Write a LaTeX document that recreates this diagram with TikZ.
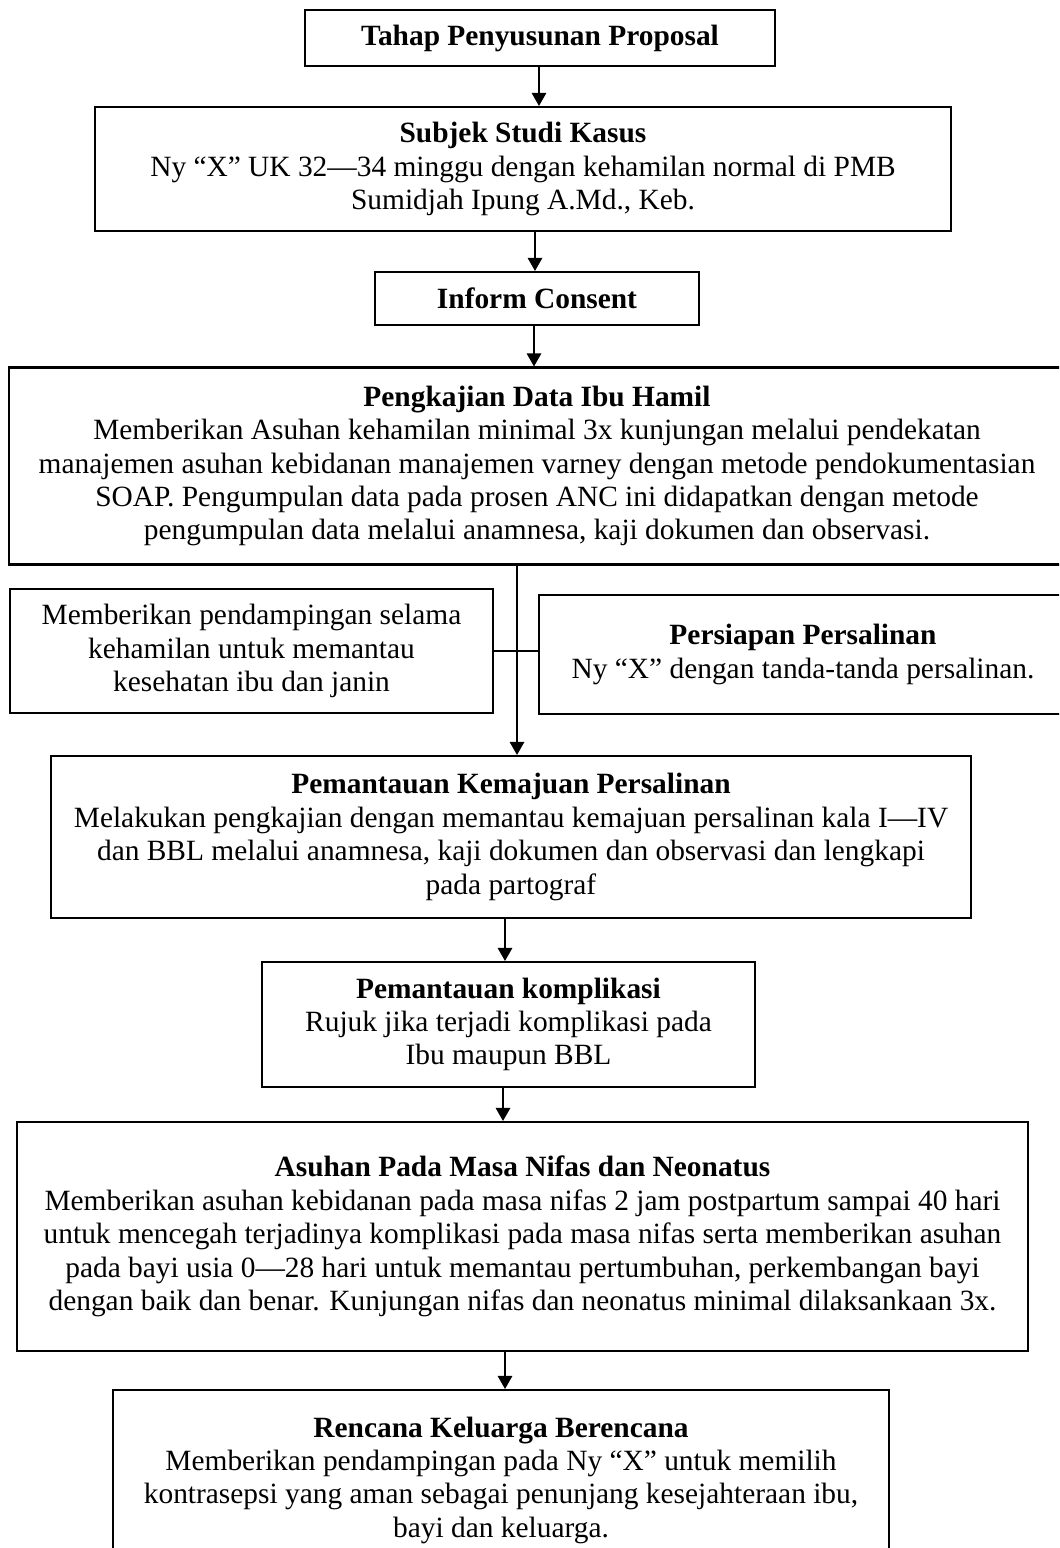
\documentclass[tikz,border=0pt]{standalone}
\usepackage{fontspec}
\setmainfont{Liberation Serif}
\usetikzlibrary{arrows.meta}
\begin{document}
\begin{tikzpicture}[x=0.4286pt,y=-0.4286pt,
  bx/.style={draw,line width=0.9pt,align=center,inner sep=0pt,font=\fontsize{12.6}{14.3}\selectfont},
  sz/.style 2 args={minimum width={#1*0.4286pt},minimum height={#2*0.4286pt}},
  arr/.style={line width=0.7pt,-{Triangle[length=5.6pt,width=6.2pt]}},
  link/.style={line width=0.45pt}]
\useasboundingbox (0,0) rectangle (1059,1548);
\clip (0,0) rectangle (1059,1548);
\node[bx,sz={470}{56}] (b1) at (540,38) {\textbf{Tahap Penyusunan Proposal}};
\node[bx,sz={856}{124}] (b2) at (523,169) {\textbf{Subjek Studi Kasus}\\Ny “X” UK 32—34 minggu dengan kehamilan normal di PMB\\Sumidjah Ipung A.Md., Keb.};
\node[bx,sz={324}{53}] (b3) at (537,298.5) {\textbf{Inform Consent}};
\node[bx,sz={1056}{197}] (b4) at (537,466) {\textbf{Pengkajian Data Ibu Hamil}\\Memberikan Asuhan kehamilan minimal 3x kunjungan melalui pendekatan\\manajemen asuhan kebidanan manajemen varney dengan metode pendokumentasian\\SOAP. Pengumpulan data pada prosen ANC ini didapatkan dengan metode\\pengumpulan data melalui anamnesa, kaji dokumen dan observasi.};
\node[bx,sz={483}{124}] (bl) at (251.5,651) {Memberikan pendampingan selama\\kehamilan untuk memantau\\kesehatan ibu dan janin};
\node[bx,sz={528}{119}] (br) at (803,654.5) {\textbf{Persiapan Persalinan}\\Ny “X” dengan tanda-tanda persalinan.};
\node[bx,sz={920}{162}] (b5) at (511,837) {\textbf{Pemantauan Kemajuan Persalinan}\\Melakukan pengkajian dengan memantau kemajuan persalinan kala I—IV\\dan BBL melalui anamnesa, kaji dokumen dan observasi dan lengkapi\\pada partograf};
\node[bx,sz={493}{125}] (b6) at (508.5,1024.5) {\textbf{Pemantauan komplikasi}\\Rujuk jika terjadi komplikasi pada\\Ibu maupun BBL};
\node[bx,sz={1011}{229}] (b7) at (522.5,1236.5) {\textbf{Asuhan Pada Masa Nifas dan Neonatus}\\Memberikan asuhan kebidanan pada masa nifas 2 jam postpartum sampai 40 hari\\untuk mencegah terjadinya komplikasi pada masa nifas serta memberikan asuhan\\pada bayi usia 0—28 hari untuk memantau pertumbuhan, perkembangan bayi\\dengan baik dan benar. Kunjungan nifas dan neonatus minimal dilaksankaan 3x.};
\node[bx,sz={776}{180}] (b8) at (501,1480) {\textbf{Rencana Keluarga Berencana}\\Memberikan pendampingan pada Ny “X” untuk memilih\\kontrasepsi yang aman sebagai penunjang kesejahteraan ibu,\\bayi dan keluarga.};
\draw[arr] (539,0 |- b1.south) -- (539,0 |- b2.north);
\draw[arr] (535,0 |- b2.south) -- (535,0 |- b3.north);
\draw[arr] (534,0 |- b3.south) -- (534,0 |- b4.north);
\draw[link] (bl.east) -- (bl.east -| br.west);
\draw[arr] (517,0 |- b4.south) -- (517,0 |- b5.north);
\draw[arr] (505,0 |- b5.south) -- (505,0 |- b6.north);
\draw[arr] (503,0 |- b6.south) -- (503,0 |- b7.north);
\draw[arr] (505,0 |- b7.south) -- (505,0 |- b8.north);
\end{tikzpicture}
\end{document}
